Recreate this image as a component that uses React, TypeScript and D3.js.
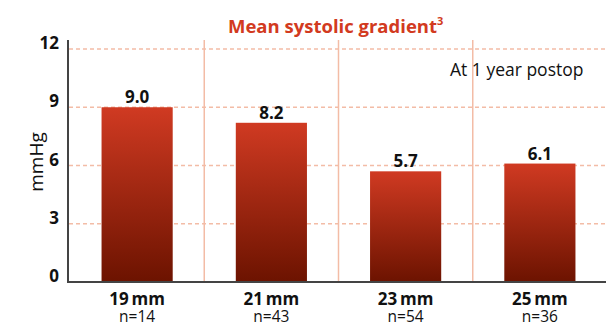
import React from "react";
import * as d3 from "d3";

const categories = ["19\u2009mm", "21\u2009mm", "23\u2009mm", "25\u2009mm"];
const sampleSizes = ["n=14", "n=43", "n=54", "n=36"];
const values = [9.0, 8.2, 5.7, 6.1];
const yTicks = [0, 3, 6, 9, 12];

const W = 606;
const H = 325;
const FONT = "'Open Sans', 'Noto Sans', sans-serif";

export default function App() {
  const x = d3.scaleBand<string>().domain(categories).range([70, 607]).paddingInner(0.47).paddingOuter(0.235);
  const band = d3.scaleBand<string>().domain(categories).range([70, 607]);
  const y = d3.scaleLinear().domain([0, 12]).range([282, 49]);

  return (
    <svg width={W} height={H} style={{ position: "absolute", left: 0, top: 0 }}>
      <defs>
        <linearGradient id="barGrad" x1="0" y1="0" x2="0" y2="1">
          <stop offset="0%" stopColor="#d03a22" />
          <stop offset="100%" stopColor="#6c1300" />
        </linearGradient>
      </defs>
      <text x={228} y={33} fontFamily={FONT} fontWeight={700} fontSize={18.5} fill="#d23a20">
        Mean systolic gradient
        <tspan fontSize={11} dy={-8}>3</tspan>
      </text>
      {yTicks.filter((t) => t > 0).map((t) => (
        <line key={t} x1={69} x2={W} y1={y(t)} y2={y(t)} stroke="#f3bca6" strokeWidth={1.5} strokeDasharray="4,3" />
      ))}
      {categories.slice(1).map((c) => (
        <line key={c} x1={band(c)!} x2={band(c)!} y1={40} y2={282} stroke="#f3bca6" strokeWidth={1.5} />
      ))}
      {categories.map((c, i) => (
        <rect key={c} x={x(c)!} y={y(values[i])} width={x.bandwidth()} height={y(0) - y(values[i])} fill="url(#barGrad)" />
      ))}
      {categories.map((c, i) => (
        <text key={c} x={x(c)! + x.bandwidth() / 2} y={y(values[i]) - 4} textAnchor="middle" fontFamily={FONT} fontWeight={700} fontSize={17} fill="#111">
          {values[i].toFixed(1)}
        </text>
      ))}
      <line x1={68} x2={68} y1={40} y2={283} stroke="#444" strokeWidth={2} />
      <line x1={67} x2={W} y1={282} y2={282} stroke="#444" strokeWidth={2} />
      {yTicks.map((t) => (
        <text key={t} x={59} y={y(t)} textAnchor="end" fontFamily={FONT} fontWeight={700} fontSize={17} fill="#111">
          {t}
        </text>
      ))}
      <text transform="translate(43,162) rotate(-90)" textAnchor="middle" fontFamily={FONT} fontSize={19} fill="#111">
        mmHg
      </text>
      {categories.map((c, i) => (
        <g key={c}>
          <text x={x(c)! + x.bandwidth() / 2} y={305} textAnchor="middle" fontFamily={FONT} fontWeight={700} fontSize={17} fill="#111">
            {c}
          </text>
          <text x={x(c)! + x.bandwidth() / 2} y={322} textAnchor="middle" fontFamily={FONT} fontSize={15.5} fill="#111">
            {sampleSizes[i]}
          </text>
        </g>
      ))}
      <text x={450} y={76} fontFamily={FONT} fontSize={17.5} fill="#111">
        At 1 year postop
      </text>
    </svg>
  );
}
